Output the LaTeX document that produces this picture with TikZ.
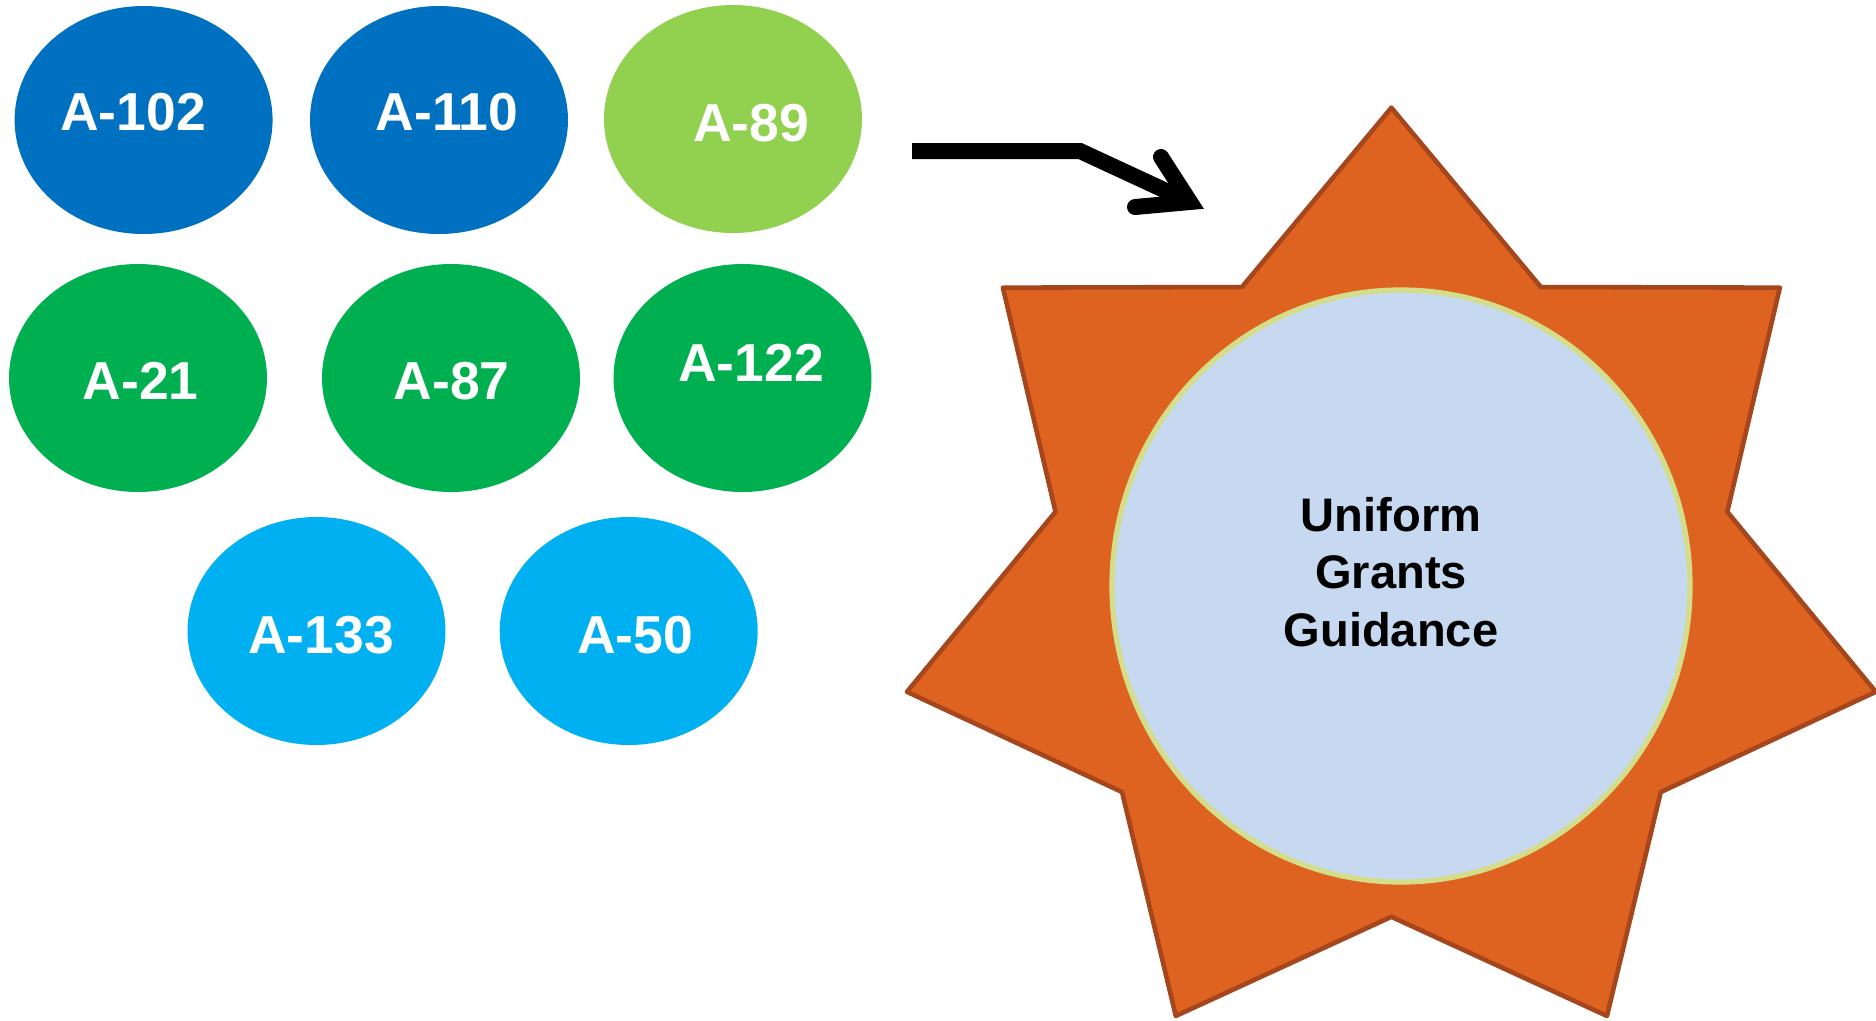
\documentclass[tikz,border=0pt]{standalone}
\usepackage{fontspec}
\setmainfont{Liberation Sans}
\usetikzlibrary{shapes.geometric}
\definecolor{darkblue}{HTML}{0070C0}
\definecolor{lightgreen}{HTML}{92D050}
\definecolor{midgreen}{HTML}{00B050}
\definecolor{skyblue}{HTML}{00B0F0}
\definecolor{starorange}{HTML}{DE6220}
\definecolor{starbrown}{HTML}{A5461D}
\definecolor{corefill}{HTML}{C6D9F0}
\definecolor{coreline}{HTML}{D4DE8A}

\begin{document}
\begin{tikzpicture}[x=0.1mm,y=-0.1mm,
  oval/.style={ellipse,minimum width=25.8mm,minimum height=22.8mm,inner sep=0pt},
  ovaltext/.style={text=white,font=\fontsize{15.2}{18}\selectfont\bfseries,inner sep=0pt},
  starbody/.style={fill=starorange,draw=starbrown,line width=1.3pt,line join=round},
  core/.style={ellipse,fill=corefill,draw=coreline,line width=1.5pt,minimum width=57.8mm,minimum height=59.2mm,inner sep=0pt},
  coretext/.style={align=center,font=\fontsize{13.4}{16.3}\selectfont\bfseries,inner sep=0pt},
  flow/.style={line width=1.6mm,line join=miter}]
\useasboundingbox (0,0) rectangle (1876,1020);
% circulars
\node[oval,fill=darkblue] (a102) at (143.6,120) {};
\node[oval,fill=darkblue] (a110) at (439,120) {};
\node[oval,fill=lightgreen] (a89) at (733,119) {};
\node[oval,fill=midgreen] (a21) at (138,378) {};
\node[oval,fill=midgreen] (a87) at (451,378) {};
\node[oval,fill=midgreen] (a122) at (742.5,378) {};
\node[oval,fill=skyblue] (a133) at (316.5,631) {};
\node[oval,fill=skyblue] (a50) at (628.7,631) {};
\node[ovaltext] (a102t) at (133,112.5) {A-102};
\node[ovaltext] (a110t) at (447,112.5) {A-110};
\node[ovaltext] (a89t) at (751,123) {A-89};
\node[ovaltext] (a21t) at (140.6,381) {A-21};
\node[ovaltext] (a87t) at (451.6,381) {A-87};
\node[ovaltext] (a122t) at (751,363) {A-122};
\node[ovaltext] (a133t) at (321,635) {A-133};
\node[ovaltext] (a50t) at (635,635) {A-50};
% star
\draw[starbody] plot[samples at={0,...,13},variable=\k]
  ({1391.4+1.04*ifthenelse(mod(\k,2)==0,477.8,331.3)*cos(90+\k*180/7)},
   {585.5-ifthenelse(mod(\k,2)==0,477.8,331.3)*sin(90+\k*180/7)}) -- cycle;
\node[core] (core) at (1401,586) {};
\node[coretext] (coret) at (1391,572) {Uniform\\Grants\\Guidance};
% arrow
\coordinate (arrstart) at (912,151);
\coordinate (arrbend) at (1080,151);
\coordinate (arrtip) at (1190,202);
\coordinate (arrl) at (1161,157);
\coordinate (arrr) at (1135,207);
\draw[flow] (arrstart) -- (arrbend) -- (arrtip);
\draw[flow,line cap=round] (arrl) -- (arrtip) -- (arrr);
\end{tikzpicture}
\end{document}
